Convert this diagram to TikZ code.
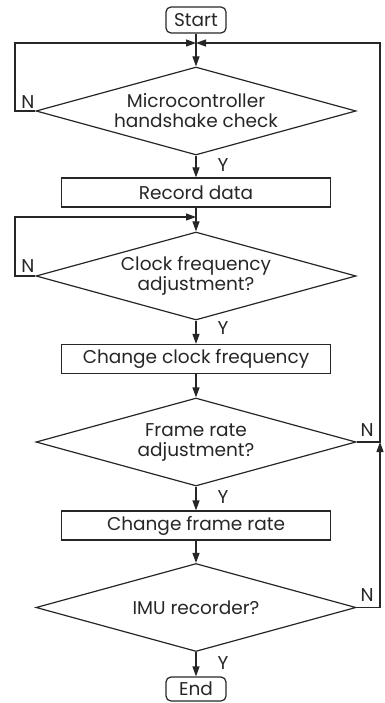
\documentclass[tikz,border=0pt]{standalone}
\usepackage{fontspec}
\setmainfont{Poppins}
\usetikzlibrary{shapes.geometric,arrows.meta}
\begin{document}
\begin{tikzpicture}[x=1pt,y=-1pt,
  line width=1.2pt, draw=black!85, text=black!85,
  font=\fontsize{18.5}{20}\selectfont,
  flow/.style={-{Triangle[length=10pt,width=7pt]}},
  term/.style={draw, rounded corners=5pt, minimum width=60pt, minimum height=26pt, inner sep=0pt},
  procbox/.style={draw, minimum width=269pt, minimum height=29pt, inner sep=0pt},
  decision/.style={draw, diamond, aspect=3.636, minimum width=320pt, minimum height=88pt, inner sep=0pt, align=center},
  lbl/.style={inner sep=0pt}]
\useasboundingbox (0,0) rectangle (384,703);

% blocks
\node[term] (start) at (196,20) {Start};
\node[decision] (d1) at (196,111) {Microcontroller\\handshake check};
\node[procbox] (rec) at (196,192.5) {Record data};
\node[decision] (d2) at (196,276) {Clock frequency\\adjustment?};
\node[procbox] (clk) at (196,359) {Change clock frequency};
\node[decision] (d3) at (196,442) {Frame rate\\adjustment?};
\node[procbox] (frm) at (196,525.5) {Change frame rate};
\node[decision] (d4) at (196,607.5) {IMU recorder?};
\node[term, minimum height=24pt] (end) at (196,689) {End};

% loop corners and merge points
\coordinate (m1) at (196,43);
\coordinate (l1) at (15,43);
\coordinate (r1) at (380,43);
\coordinate (m2) at (196,217);
\coordinate (l2) at (15,217);

% main flow
\draw[flow] (start) -- (d1);
\draw[flow] (d1) -- (rec);
\draw[flow] (rec) -- (d2);
\draw[flow] (d2) -- (clk);
\draw[flow] (clk) -- (d3);
\draw[flow] (d3) -- (frm);
\draw[flow] (frm) -- (d4);
\draw[flow] (d4) -- (end);

% loops back
\draw[flow] (d1.west) -- (d1.west -| l1) -- (l1) -- (m1);
\draw[flow] (d2.west) -- (d2.west -| l2) -- (l2) -- (m2);
\draw[flow] (d3.east) -- (d3.east -| r1) -- (r1) -- (m1);
\draw[flow] (d4.east) -- (d4.east -| r1) -- (d3.east -| r1);

% branch labels
\node[lbl] (y1) at (223,165) {Y};
\node[lbl] (y2) at (223,328) {Y};
\node[lbl] (y3) at (223,497) {Y};
\node[lbl] (y4) at (223,663) {Y};
\node[lbl] (n1) at (28,102) {N};
\node[lbl] (n2) at (28,266) {N};
\node[lbl] (n3) at (367,430) {N};
\node[lbl] (n4) at (367,595) {N};
\end{tikzpicture}
\end{document}
